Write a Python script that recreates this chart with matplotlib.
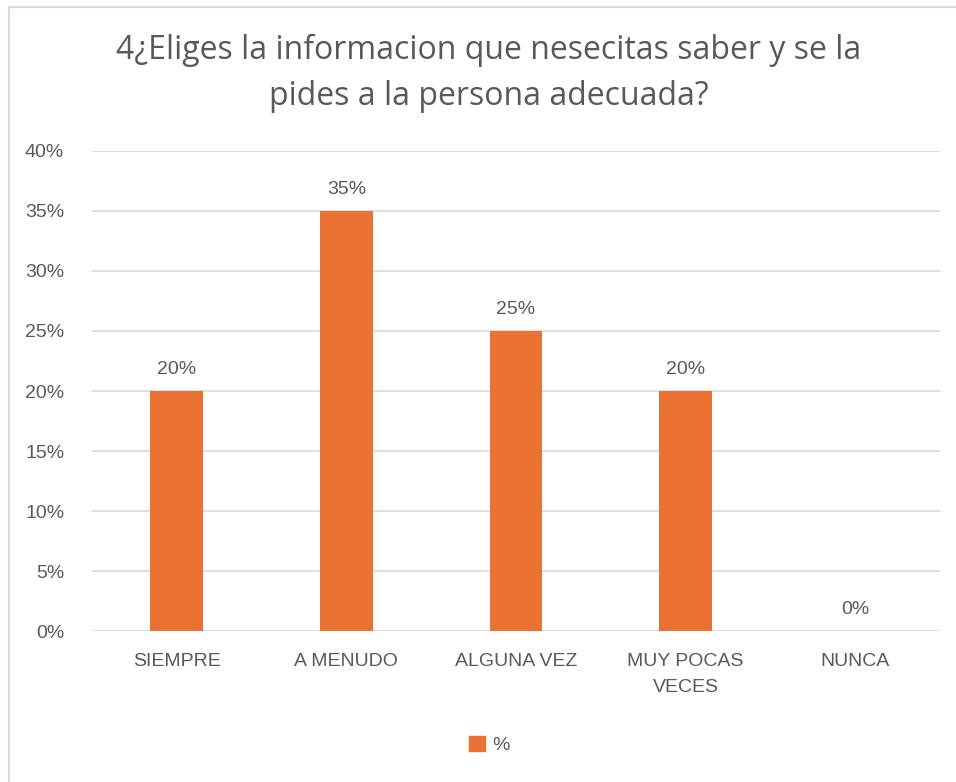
import matplotlib.pyplot as plt
from matplotlib.lines import Line2D
from matplotlib.patches import Patch

categorias = ["SIEMPRE", "A MENUDO", "ALGUNA VEZ", "MUY POCAS\nVECES", "NUNCA"]
porcentajes = [0.20, 0.35, 0.25, 0.20, 0.00]
yticks = [0, 0.05, 0.10, 0.15, 0.20, 0.25, 0.30, 0.35, 0.40]

naranja = "#E97132"
gris_texto = "#595959"
gris_linea = "#D9D9D9"

plt.rcParams['font.family'] = ['Liberation Sans', 'DejaVu Sans']

fig = plt.figure(figsize=(9.56, 7.82), dpi=100)
ax = fig.add_axes([0.0962, 0.193, 0.887, 0.614])

x = range(len(categorias))
barras = ax.bar(x, porcentajes, width=0.31, color=naranja, zorder=3)

for xi, v in zip(x, porcentajes):
    ax.text(xi, v + 0.011, f"{v:.0%}", ha="center", va="bottom",
            fontsize=14, color=gris_texto)

ax.set_xlim(-0.5, len(categorias) - 0.5)
ax.set_ylim(0, 0.40)
ax.set_yticks(yticks)
ax.set_yticklabels([f"{t:.0%}" for t in yticks])
ax.set_xticks(list(x))
ax.set_xticklabels(categorias, linespacing=1.65)
ax.tick_params(axis="both", length=0, labelsize=14, labelcolor=gris_texto)
ax.tick_params(axis="y", pad=20)
ax.tick_params(axis="x", pad=16)
ax.yaxis.grid(True, color=gris_linea, linewidth=1.2, zorder=0)
for s in ax.spines.values():
    s.set_visible(False)

fig.text(0.511, 0.936, "4¿Eliges la informacion que nesecitas saber y se la",
         ha="center", va="center", fontsize=23, color=gris_texto,
         family=["Open Sans", "DejaVu Sans"])
fig.text(0.511, 0.876, "pides a la persona adecuada?",
         ha="center", va="center", fontsize=23, color=gris_texto,
         family=["Open Sans", "DejaVu Sans"])

fig.legend(handles=[Patch(color=naranja, label="%")], loc="center",
           bbox_to_anchor=(0.512, 0.047), frameon=False, fontsize=14,
           labelcolor=gris_texto, handlelength=0.8, handleheight=0.8,
           handletextpad=0.4)

# marco del gráfico
fig.add_artist(Line2D([9 / 956, 1], [1 - 7 / 782, 1 - 7 / 782],
                      color=gris_linea, linewidth=1.5, transform=fig.transFigure))
fig.add_artist(Line2D([9 / 956, 9 / 956], [0, 1 - 7 / 782],
                      color=gris_linea, linewidth=1.5, transform=fig.transFigure))

fig.savefig("out.png", dpi=100)
